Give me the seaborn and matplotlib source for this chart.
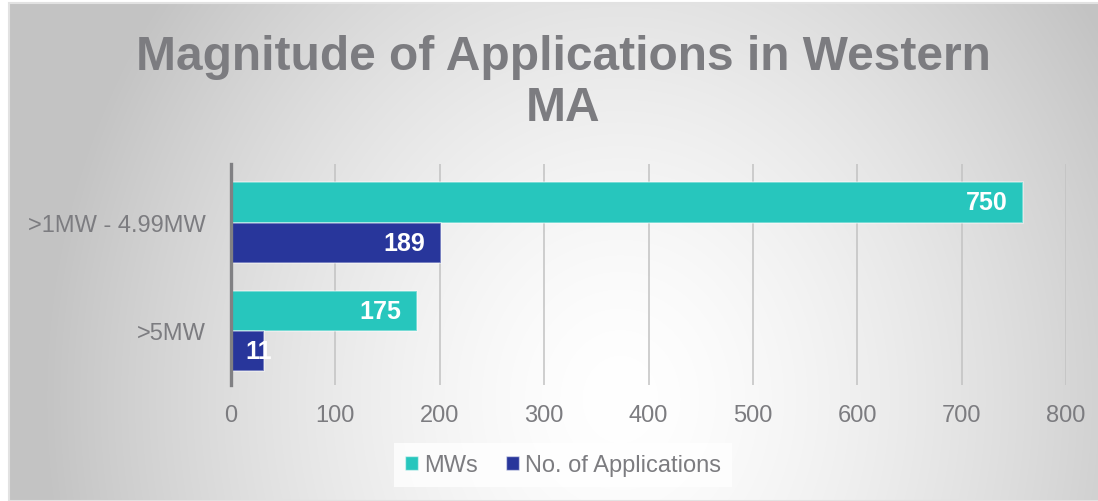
"""Magnitude of applications in Western MA - horizontal grouped bar chart."""

import matplotlib.pyplot as plt
import numpy as np
import pandas as pd
import seaborn as sns
from matplotlib.patches import Patch

categories = [">1MW - 4.99MW", ">5MW"]
series_names = ["MWs", "No. of Applications"]
mw_values = [759, 178]
app_values = [201, 32]
mw_labels = ["750", "175"]
app_labels = ["189", "11"]
x_ticks = [0, 100, 200, 300, 400, 500, 600, 700, 800]

TEAL = "#27c6bd"
NAVY = "#28369b"
TEXT_GRAY = "#7c7c80"


def _background(fig: plt.Figure) -> None:
    # radial grey-to-white fill behind everything, like the office chart area
    bg = fig.add_axes([10 / 1098, 0, 1 - 10 / 1098, 1 - 5 / 502], zorder=-10)
    h, w = 497, 1088
    yy, xx = np.mgrid[0:h, 0:w]
    r = np.sqrt(((xx - 610) / 520) ** 2 + ((yy - 395) / 600) ** 2)
    shade = np.clip(1 - 0.2 * r ** 1.5, 0.765, 1)
    rgb = np.dstack([shade, shade, shade])
    bg.imshow(rgb, aspect="auto", interpolation="bilinear")
    bg.set_axis_off()
    fig.patches.append(
        plt.Rectangle((9 / 1098, 0), 1, 1 - 4 / 502, transform=fig.transFigure,
                      fill=False, edgecolor="#e2e2e2", linewidth=1.5, zorder=-5)
    )


def main() -> None:
    sns.set_theme(style="white")
    plt.rcParams["font.family"] = ["Liberation Sans", "DejaVu Sans"]

    frame = pd.DataFrame(
        {
            "category": categories * 2,
            "series": [series_names[0]] * 2 + [series_names[1]] * 2,
            "value": mw_values + app_values,
        }
    )

    fig = plt.figure(figsize=(10.98, 5.02), dpi=100)
    fig.patch.set_facecolor("white")
    _background(fig)

    ax = fig.add_axes([231 / 1098, 1 - 386 / 502, (1066 - 231) / 1098, (386 - 165) / 502])
    ax.patch.set_alpha(0)
    sns.barplot(
        data=frame, x="value", y="category", hue="series", orient="h",
        palette={series_names[0]: TEAL, series_names[1]: NAVY}, saturation=1,
        width=0.74, edgecolor=(1, 1, 1, 0.45), linewidth=1.2, ax=ax, legend=False,
        zorder=3,
    )

    ax.set_xlim(0, 800)
    ax.set_ylim(1.5, -0.54)
    ax.set_xticks(x_ticks)
    ax.grid(axis="x", color="#c2c2c2", linewidth=1.1, zorder=0)
    ax.set_axisbelow(True)
    for side in ["top", "right", "bottom"]:
        ax.spines[side].set_visible(False)
    ax.spines["left"].set_color("#808083")
    ax.spines["left"].set_linewidth(2.4)
    ax.spines["left"].set_zorder(5)
    ax.set_xlabel("")
    ax.set_ylabel("")
    ax.tick_params(axis="x", length=0, pad=14, labelsize=17, labelcolor=TEXT_GRAY)
    ax.tick_params(axis="y", length=0, pad=18, labelsize=17, labelcolor=TEXT_GRAY)

    # data labels inside the bar ends
    for container, labels in zip(ax.containers, [mw_labels, app_labels]):
        for bar, text in zip(container, labels):
            yc = bar.get_y() + bar.get_height() / 2
            if bar.get_width() > 80:
                ax.annotate(text, (bar.get_width(), yc), xytext=(-11.5, 0),
                            textcoords="offset points", ha="right", va="center",
                            color="white", fontsize=18, fontweight="bold", zorder=6)
            else:
                ax.annotate(text, (0, yc), xytext=(10, 0), textcoords="offset points",
                            ha="left", va="center", color="white", fontsize=18,
                            fontweight="bold", zorder=6)

    fig.text(563 / 1098, 1 - 35 / 502, "Magnitude of Applications in Western\nMA",
             ha="center", va="top", fontsize=34.5, fontweight="bold",
             color=TEXT_GRAY, linespacing=1.18)

    handles = [Patch(facecolor=TEAL, edgecolor=(1, 1, 1, 0.5)),
               Patch(facecolor=NAVY, edgecolor=(1, 1, 1, 0.5))]
    leg = fig.legend(
        handles, series_names, loc="center", ncol=2,
        bbox_to_anchor=(563 / 1098, 1 - 466 / 502), frameon=True,
        fontsize=17, handlelength=0.55, handleheight=0.55, handletextpad=0.25,
        columnspacing=1.2, borderpad=0.45, fancybox=False,
    )
    leg.get_frame().set_facecolor((1, 1, 1, 0.15))
    leg.get_frame().set_edgecolor("none")
    for text in leg.get_texts():
        text.set_color(TEXT_GRAY)

    fig.savefig("out.png", dpi=100)
    plt.close(fig)


if __name__ == "__main__":
    main()
